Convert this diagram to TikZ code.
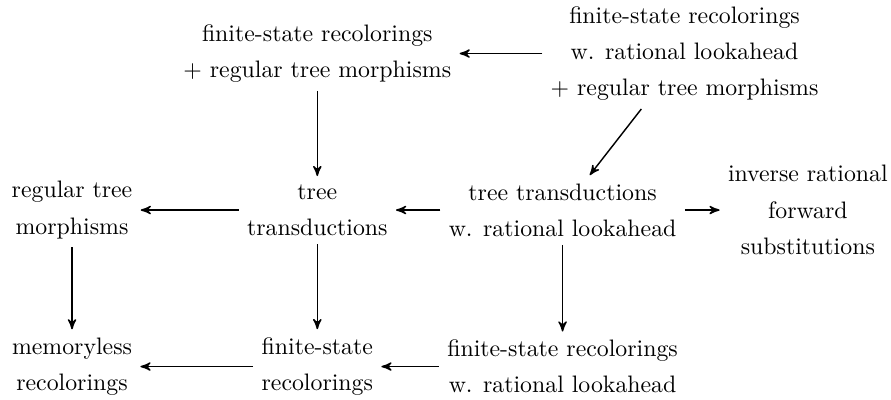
\documentclass[tikz,border=0pt]{standalone}
\usetikzlibrary{arrows}
\tikzstyle{class} = [
    align=center,
    font=\fontsize{10}{15.2}\selectfont
]
\tikzstyle{arrow} = [semithick,->,>=stealth']

\begin{document}
\begin{tikzpicture}[node distance=2.31cm]
\useasboundingbox (0,0) rectangle (13.15,5.89);

\node (regmorph) [class] at (1.063,2.79) {regular tree\\morphisms};

\node (trans) [class, right of=regmorph, xshift=1.31cm]
{tree\\transductions};

\node (translook) [class, right of=trans, xshift=1.31cm]
{tree transductions\\w. rational lookahead};

\node (invsubst) [class, right of=translook, xshift=1.31cm]
{inverse rational\\forward\\substitutions};

\node (recolmorph) [class, above of=trans]
{finite-state recolorings\\+ regular tree morphisms};

\node (recollookmorph) [class, above of=translook, xshift=1.8cm]
{finite-state recolorings\\w. rational lookahead\\+ regular tree morphisms};

\node (memless) [class, below of=regmorph]
{memoryless\\recolorings};

\node (recol) [class, below of=trans]
{finite-state\\recolorings};

\node (recollook) [class, below of=translook]
{finite-state recolorings\\w. rational lookahead};

\draw [arrow] (recollookmorph) -- (recolmorph);
\draw [arrow] (recolmorph) -- (trans);
\draw [arrow] (recollookmorph) -- (translook);

\draw [arrow] (trans) -- (regmorph);
\draw [arrow] (translook) -- (trans);
\draw [arrow] (translook) -- (invsubst);

\draw [arrow] (regmorph) -- (memless);
\draw [arrow] (trans) -- (recol);
\draw [arrow] (translook) -- (recollook);

\draw [arrow] (recol) -- (memless);
\draw [arrow] (recollook) -- (recol);

\end{tikzpicture}
\end{document}
